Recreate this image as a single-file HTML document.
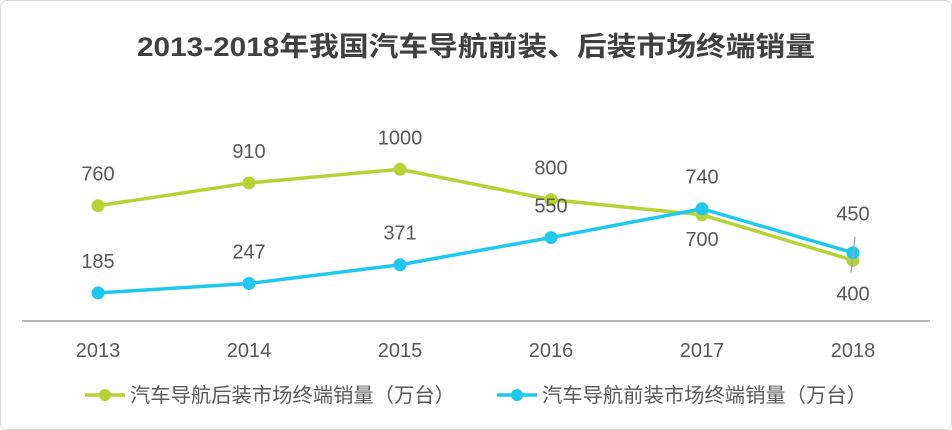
<!DOCTYPE html>
<html><head><meta charset="utf-8"><style>
body{margin:0;background:#fff;}
svg{display:block;font-family:"Liberation Sans","Noto Sans CJK SC",sans-serif;}
</style></head><body>
<svg id="chart" width="952" height="430">
<rect x="0.5" y="0.5" width="951" height="429" rx="6" fill="#fff" stroke="#d9d9d9"/>
<text x="137" y="56" font-size="27" font-weight="bold" fill="#404040" textLength="678" lengthAdjust="spacingAndGlyphs">2013-2018年我国汽车导航前装、后装市场终端销量</text>
<line x1="22" y1="321" x2="930" y2="321" stroke="#8c8c8c" stroke-width="1.3"/>
<g id="xt"></g><g id="series"></g>
<g>
<line x1="85" y1="395" x2="125" y2="395" stroke="#b5d334" stroke-width="3.5"/>
<circle cx="105" cy="395" r="6" fill="#b5d334"/>
<text x="130" y="402" font-size="20" fill="#595959" textLength="325" lengthAdjust="spacingAndGlyphs">汽车导航后装市场终端销量（万台）</text>
<line x1="497" y1="395" x2="537" y2="395" stroke="#1fc8ef" stroke-width="3.5"/>
<circle cx="517" cy="395" r="6" fill="#1fc8ef"/>
<text x="542" y="402" font-size="20" fill="#595959" textLength="325" lengthAdjust="spacingAndGlyphs">汽车导航前装市场终端销量（万台）</text>
</g>
</svg>
<script>
const categories=["2013","2014","2015","2016","2017","2018"];
const afterValues=[760,910,1000,800,700,400];
const oemValues=[185,247,371,550,740,450];
const afterLabelPos=["above","above","above","above","below","below"];
const oemLabelPos=["above","above","above","above","above","above"];
const NS="http://www.w3.org/2000/svg";
const xs=i=>98+i*151;
const ys=v=>321-v*0.1517;
function mk(t,a,p){const e=document.createElementNS(NS,t);for(const k in a)e.setAttribute(k,a[k]);p.appendChild(e);return e;}
const xt=document.getElementById('xt');
categories.forEach((c,i)=>{
 const t=mk('text',{x:xs(i),y:357,'text-anchor':'middle','font-size':20,fill:'#595959'},xt);
 
 
 t.textContent=c;
});
const g=document.getElementById('series');
function draw(vals,color,name){
 const pts=vals.map((v,i)=>xs(i)+','+ys(v)).join(' ');
 const l=mk('polyline',{points:pts,fill:'none',stroke:color,'stroke-width':3.5},g);
 
 
 vals.forEach((v,i)=>{
  const c=mk('circle',{cx:xs(i),cy:ys(v),r:6.5,fill:color},g);
  
  
 });
}
function labels(vals,name,pos){
 vals.forEach((v,i)=>{
  let y=pos[i]==='above'?ys(v)-25:ys(v)+31;
  if(i===5) y=pos[i]==='above'?ys(v)-32:ys(v)+40;
  const t=mk('text',{x:xs(i),y:y,'text-anchor':'middle','font-size':20,fill:'#595959'},g);
  
  
  t.textContent=v;
 });
}
draw(afterValues,'#b5d334','aftermarket');
draw(oemValues,'#1fc8ef','oem');
labels(afterValues,'aftermarket',afterLabelPos);
labels(oemValues,'oem',oemLabelPos);
const ld=mk('line',{x1:xs(5)-2,y1:ys(oemValues[5])+20,x2:xs(5)+2,y2:ys(oemValues[5])-16,stroke:'#a6a6a6','stroke-width':1.3},g);


</script>
</body></html>
